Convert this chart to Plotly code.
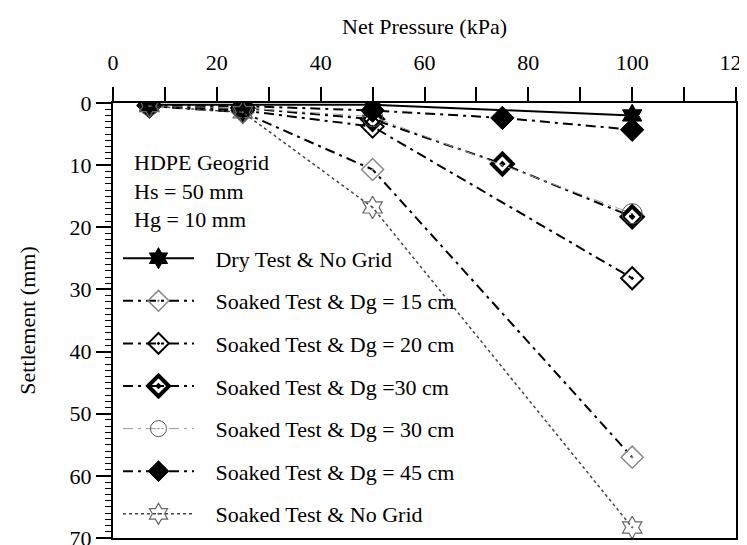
import plotly.graph_objects as go

# ---- data ----
x_dry = [7, 25, 50, 100]
y_dry = [0.3, 0.3, 0.3, 2.0]

x_dg15 = [7, 25, 50, 100]
y_dg15 = [0.5, 1.5, 10.7, 57.0]

x_dg20 = [7, 25, 50, 100]
y_dg20 = [0.5, 1.2, 3.8, 28.2]

x_dg30 = [7, 25, 50, 75, 100]
y_dg30 = [0.4, 0.8, 2.6, 9.8, 18.3]

x_dg30c = [7, 25, 50, 100]
y_dg30c = [0.4, 0.8, 2.2, 17.8]

x_dg45 = [7, 25, 50, 75, 100]
y_dg45 = [0.3, 0.5, 1.2, 2.4, 4.3]

x_nogrid = [7, 25, 50, 100]
y_nogrid = [0.5, 1.5, 16.8, 68.3]

names = [
    "Dry Test & No Grid",
    "Soaked Test & Dg = 15 cm",
    "Soaked Test & Dg = 20 cm",
    "Soaked Test & Dg =30 cm",
    "Soaked Test & Dg = 30 cm",
    "Soaked Test & Dg = 45 cm",
    "Soaked Test & No Grid",
]

x_tickvals = [0, 10, 20, 30, 40, 50, 60, 70, 80, 90, 100, 110, 120]
x_ticktext = ["0", "", "20", "", "40", "", "60", "", "80", "", "100", "", "120"]
y_tickvals = [0, 10, 20, 30, 40, 50, 60, 70]

FONT = "Liberation Serif"
DASHDOT = "10px,5px,3px,5px"
PAD = "\u00a0\u00a0\u00a0"

fig = go.Figure()

def add(x, y, name, i, line, marker):
    fig.add_trace(go.Scatter(
        x=x, y=y, name=PAD + name, mode="lines+markers",
        line=line, marker=marker, legendgroup=f"g{i}",
    ))

add(x_dry, y_dry, names[0], 0,
    dict(color="black", width=2),
    dict(symbol="hexagram", size=17, color="black", line=dict(color="black", width=1)))
add(x_dg15, y_dg15, names[1], 1,
    dict(color="black", width=2, dash=DASHDOT),
    dict(symbol="diamond-open-dot", size=17, color="#888888", line=dict(color="#888888", width=1.5)))
add(x_dg20, y_dg20, names[2], 2,
    dict(color="black", width=2, dash=DASHDOT),
    dict(symbol="diamond-open-dot", size=17, color="black", line=dict(color="black", width=2)))
add(x_dg30, y_dg30, names[3], 3,
    dict(color="black", width=2, dash=DASHDOT),
    dict(symbol="diamond-open-dot", size=16, color="black", line=dict(color="black", width=4)))
add(x_dg30c, y_dg30c, names[4], 4,
    dict(color="#9a9a9a", width=1, dash=DASHDOT),
    dict(symbol="circle-open-dot", size=20, color="#555555", line=dict(color="#555555", width=1)))
add(x_dg45, y_dg45, names[5], 5,
    dict(color="black", width=2, dash=DASHDOT),
    dict(symbol="diamond", size=18, color="black", line=dict(color="black", width=1)))
add(x_nogrid, y_nogrid, names[6], 6,
    dict(color="#444444", width=1.5, dash="dot"),
    dict(symbol="hexagram-open-dot", size=17, color="#666666", line=dict(color="#666666", width=1.2)))

fig.add_annotation(
    x=3.7, y=14.2, xref="x", yref="y", xanchor="left", yanchor="middle",
    text="HDPE Geogrid<br>Hs = 50 mm<br>Hg = 10 mm", showarrow=False, align="left",
    font=dict(family=FONT, size=22, color="black"),
)

# page body has an 8px margin, so the figure is sized to fit the 747x545 window
fig.update_layout(
    width=739, height=537,
    margin=dict(l=105, r=11, t=95, b=7),
    paper_bgcolor="white", plot_bgcolor="white",
    font=dict(family=FONT, size=22, color="black"),
    showlegend=True,
    legend=dict(
        x=0.008, y=0.691, xanchor="left", yanchor="top",
        bgcolor="rgba(0,0,0,0)", borderwidth=0,
        font=dict(family=FONT, size=22, color="black"),
        itemwidth=71, tracegroupgap=11, traceorder="grouped",
    ),
    xaxis=dict(
        side="top", range=[0, 120], tickvals=x_tickvals, ticktext=x_ticktext,
        ticks="outside", ticklen=14, tickwidth=1.5, tickcolor="black",
        showline=True, linecolor="black", linewidth=2, mirror=True,
        showgrid=False, zeroline=False, ticklabelstandoff=8,
        ticklabeloverflow="allow", automargin=False,
        title=dict(text="Net Pressure (kPa)", font=dict(family=FONT, size=22), standoff=10),
    ),
    yaxis=dict(
        range=[70, 0], tickvals=y_tickvals,
        ticks="outside", ticklen=15, tickwidth=1.5, tickcolor="black",
        minor=dict(dtick=1, ticks="outside", ticklen=6, tickcolor="black", tickwidth=1),
        showline=True, linecolor="black", linewidth=2, mirror=True,
        showgrid=False, zeroline=False, ticklabelstandoff=0,
        ticklabeloverflow="allow", automargin=False,
        title=dict(text="Settlement (mm)", font=dict(family=FONT, size=22), standoff=28),
    ),
)

fig.write_html("out.html")
